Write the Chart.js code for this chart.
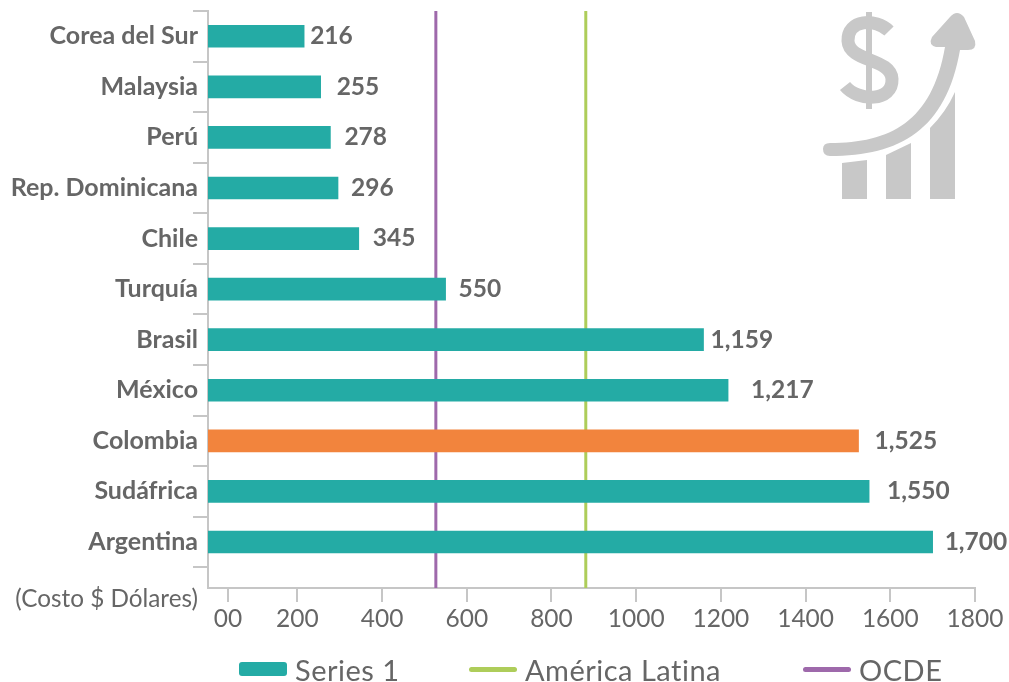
<!DOCTYPE html>
<html>
<head>
<meta charset="utf-8">
<script src="https://cdn.jsdelivr.net/npm/chart.js@4/dist/chart.umd.min.js"></script>
<style>
  body { margin: 0; background: #fff; overflow: hidden; }
  #wrap { position: relative; width: 1009px; height: 682px; overflow: hidden; }
  #note { position: absolute; right: 811px; top: 583px; font: 24.3px Lato, sans-serif; color: #666; white-space: nowrap; }
  #icon { position: absolute; left: 800px; top: 0; }
  .key { position: absolute; top: 652px; height: 36px; line-height: 36px; font: 29px/36px Lato, sans-serif; letter-spacing: .5px; color: #666; white-space: nowrap; padding-left: 56px; }
  .key i { position: absolute; left: 0; width: 48px; border-radius: 3px; }
</style>
</head>
<body>
<div id="wrap">
  <canvas id="chart" width="1009" height="682"></canvas>
  <div id="note">(Costo $ Dólares)</div>
  <svg id="icon" width="209" height="210" viewBox="0 0 209 210">
    <g fill="#c8c8c8">
      <path d="M42 163 L67 160 L67 199 L42 199 Z"/>
      <path d="M86 155 L111 143 L111 199 L86 199 Z"/>
      <path d="M130 128 Q146 112 155 92 L155 199 L130 199 Z"/>
      <path d="M30 143 C90 143 132 122 145 47 L136 47 Q128 45 132 37 L150 17 Q157 9 164 17 L175 41 Q177 50 168 50 L160 50 C146 130 100 156 30 156 Q23 156 23 149 Q23 143 30 143 Z"/>
      <rect x="66" y="12" width="6" height="97"/>
      <path d="M89 31 C76 18 47 19 48 41 C49 62 91 58 92 79 C93 102 58 102 45 86" fill="none" stroke="#c8c8c8" stroke-width="13"/>
    </g>
  </svg>
</div>
<script>
const categories = ['Corea del Sur', 'Malaysia', 'Perú', 'Rep. Dominicana', 'Chile', 'Turquía', 'Brasil', 'México', 'Colombia', 'Sudáfrica', 'Argentina'];
const costs = [216, 255, 278, 296, 345, 550, 1159, 1217, 1525, 1550, 1700];
const costLabels = ['216', '255', '278', '296', '345', '550', '1,159', '1,217', '1,525', '1,550', '1,700'];
const labelGaps = [6, 16, 14, 13, 14, 13, 7, 23, 16, 18, 12];
const xTicks = [36, 200, 400, 600, 800, 1000, 1200, 1400, 1600, 1800];
const xTickLabels = ['00', '200', '400', '600', '800', '1000', '1200', '1400', '1600', '1800'];
const latamLevel = 881;
const ocdeLevel = 527;
const seriesNames = ['Series 1', 'América Latina', 'OCDE'];
const legendLefts = [239, 469, 803];

const TEAL = '#24aba5', ORANGE = '#f2843d', GREEN = '#aecd5a', PURPLE = '#9e69ab', GREY = '#666666', AXIS = '#c6c6c6';
const xMin = -11, yMin = -0.5, yMax = 10.91;

const barLabels = {
  id: 'barLabels',
  afterDatasetsDraw(chart) {
    const ctx = chart.ctx;
    const bars = chart.getDatasetMeta(0).data;
    ctx.save();
    ctx.font = '700 24.5px Lato, sans-serif';
    ctx.fillStyle = GREY;
    ctx.textBaseline = 'middle';
    bars.forEach((b, i) => ctx.fillText(costLabels[i], b.x + labelGaps[i], b.y));
    ctx.restore();
  }
};

new Chart(document.getElementById('chart'), {
  data: {
    datasets: [
      {
        type: 'bar', label: seriesNames[0], indexAxis: 'y', xAxisID: 'x', yAxisID: 'y',
        data: costs.map((v, i) => ({ x: v, y: i })),
        base: xMin, barThickness: 22, backgroundColor: costs.map((v, i) => i === 8 ? ORANGE : TEAL), order: 1
      },
      {
        type: 'scatter', label: seriesNames[1], showLine: true, pointRadius: 0, borderWidth: 3, borderColor: GREEN,
        indexAxis: 'x', xAxisID: 'x', yAxisID: 'y',
        data: [{ x: latamLevel, y: yMin }, { x: latamLevel, y: yMax }], order: 2
      },
      {
        type: 'scatter', label: seriesNames[2], showLine: true, pointRadius: 0, borderWidth: 3, borderColor: PURPLE,
        indexAxis: 'x', xAxisID: 'x', yAxisID: 'y',
        data: [{ x: ocdeLevel, y: yMin }, { x: ocdeLevel, y: yMax }], order: 2
      }
    ]
  },
  plugins: [barLabels],
  options: {
    indexAxis: 'y',
    responsive: false,
    animation: false,
    layout: { padding: { top: 11, right: 34, left: 0, bottom: 52 } },
    scales: {
      x: {
        type: 'linear', position: 'bottom', min: xMin, max: 1800,
        afterBuildTicks(s) { s.ticks = xTicks.map(value => ({ value })); },
        afterFit(s) { s.height = 42; },
        border: { color: AXIS, width: 2 },
        grid: { drawOnChartArea: false, color: AXIS, lineWidth: 2, tickLength: 14 },
        ticks: {
          autoSkip: false, maxRotation: 0, padding: 2, color: GREY, font: { family: 'Lato', size: 24.5 },
          callback(v) { return xTickLabels[xTicks.indexOf(v)]; }
        }
      },
      y: {
        type: 'linear', position: 'left', reverse: true, min: yMin, max: yMax, offset: false,
        afterBuildTicks(s) {
          // labels sit on the bars, tick marks between them
          const t = [];
          categories.forEach((c, i) => { t.push({ value: i - 0.5 }); t.push({ value: i }); });
          t.push({ value: 10.5 });
          s.ticks = t;
        },
        afterFit(s) { s.width = 208; s.paddingTop = 0; s.paddingBottom = 0; },
        border: { color: AXIS, width: 2 },
        grid: {
          offset: false, drawOnChartArea: false, lineWidth: 2, tickLength: 15,
          tickColor: c => (c.tick && Number.isInteger(c.tick.value)) ? 'transparent' : AXIS
        },
        ticks: {
          autoSkip: false, padding: -5, color: GREY, font: { family: 'Lato', size: 25, weight: '700' },
          callback(v) { return Number.isInteger(v) ? categories[v] : ''; }
        }
      }
    },
    plugins: {
      tooltip: { enabled: false },
      legend: { display: false }
    }
  }
});

// legend is plain html, the lines and the box have different heights
[TEAL, GREEN, PURPLE].forEach((color, i) => {
  const key = document.createElement('div');
  key.className = 'key';
  key.style.left = legendLefts[i] + 'px';
  key.textContent = seriesNames[i];
  const mark = document.createElement('i');
  const h = i === 0 ? 14 : 5;
  mark.style.height = h + 'px';
  mark.style.top = (17 - h / 2) + 'px';
  mark.style.background = color;
  key.appendChild(mark);
  document.getElementById('wrap').appendChild(key);
});
</script>
</body>
</html>
